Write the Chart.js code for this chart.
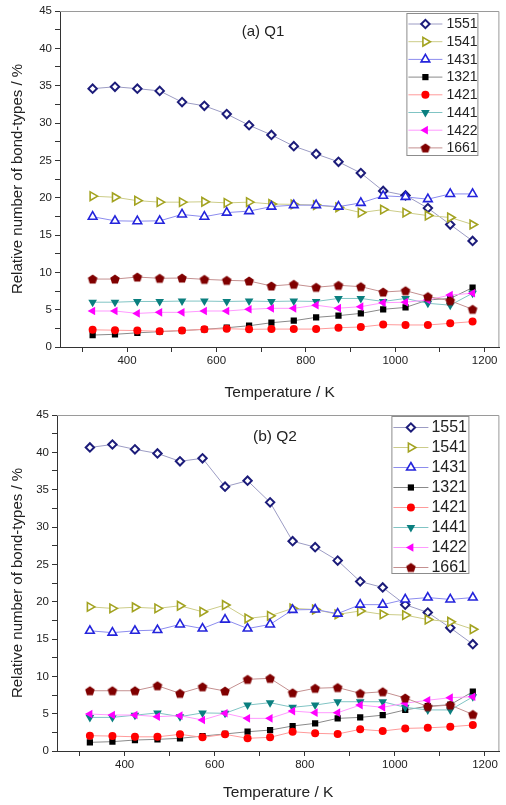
<!DOCTYPE html>
<html lang="en">
<head>
    <meta charset="UTF-8">
    <title>Bond types</title>
    <script src="https://cdn.jsdelivr.net/npm/chart.js@4.4.0/dist/chart.umd.min.js"></script>
    <style>
        body { margin: 0; background: #fff; }
        #wrap { position: relative; width: 506px; height: 805px; overflow: hidden; }
        .box { position: absolute; left: 0; width: 506px; }
    </style>
</head>
<body>
<div id="wrap">
    <div class="box" style="top:0;height:400px"><canvas id="chartA"></canvas></div>
    <div class="box" style="top:400px;height:405px"><canvas id="chartB"></canvas></div>
</div>

<script>
    // temperatures (K)
    const temps = [323, 373, 423, 473, 523, 573, 623, 673, 723, 773, 823, 873, 923, 973, 1023, 1073, 1123, 1173];
    const bondTypes = ['1551', '1541', '1431', '1321', '1421', '1441', '1422', '1661'];

    // (a) Q1
    const q1_1551 = [34.6, 34.85, 34.6, 34.3, 32.8, 32.3, 31.2, 29.7, 28.4, 26.9, 25.85, 24.8, 23.3, 20.9, 20.3, 18.6, 16.4, 14.2];
    const q1_1541 = [20.2, 20.05, 19.6, 19.4, 19.4, 19.45, 19.3, 19.4, 19.15, 19.1, 19.0, 18.7, 18.0, 18.4, 18.0, 17.6, 17.35, 16.4];
    const q1_1431 = [17.45, 16.9, 16.85, 16.9, 17.75, 17.45, 18.0, 18.2, 18.8, 19.0, 19.0, 18.8, 19.3, 20.25, 20.1, 19.8, 20.5, 20.5];
    const q1_1321 = [1.6, 1.7, 1.9, 2.05, 2.2, 2.37, 2.58, 2.85, 3.25, 3.52, 3.97, 4.2, 4.5, 5.05, 5.3, 6.3, 6.5, 7.95];
    const q1_1421 = [2.3, 2.25, 2.2, 2.1, 2.2, 2.37, 2.45, 2.37, 2.4, 2.4, 2.4, 2.58, 2.68, 3.0, 2.95, 2.95, 3.17, 3.4];
    const q1_1441 = [6.0, 6.0, 6.1, 6.1, 6.15, 6.15, 6.1, 6.15, 6.1, 6.15, 6.1, 6.5, 6.5, 6.1, 6.5, 5.85, 5.6, 7.2];
    const q1_1422 = [4.82, 4.82, 4.5, 4.64, 4.64, 4.82, 4.82, 5.05, 5.18, 5.18, 5.6, 5.2, 5.4, 5.93, 6.0, 6.3, 6.96, 7.2];
    const q1_1661 = [9.1, 9.1, 9.37, 9.2, 9.24, 9.06, 8.93, 8.84, 8.17, 8.4, 8.0, 8.26, 8.08, 7.36, 7.54, 6.75, 6.2, 5.05];

    // (b) Q2
    const q2_1551 = [40.65, 41.05, 40.4, 39.85, 38.8, 39.2, 35.4, 36.2, 33.3, 28.1, 27.3, 25.5, 22.7, 21.9, 19.6, 18.55, 16.5, 14.3];
    const q2_1541 = [19.3, 19.1, 19.25, 19.1, 19.45, 18.65, 19.55, 17.75, 18.1, 19.1, 18.95, 18.3, 18.75, 18.3, 18.2, 17.6, 17.3, 16.3];
    const q2_1431 = [16.1, 15.85, 16.1, 16.2, 16.95, 16.4, 17.6, 16.4, 16.95, 18.9, 18.95, 18.4, 19.6, 19.6, 20.3, 20.55, 20.3, 20.55];
    const q2_1321 = [1.16, 1.25, 1.47, 1.56, 1.7, 2.0, 2.28, 2.58, 2.8, 3.35, 3.7, 4.37, 4.5, 4.8, 5.5, 6.0, 6.2, 7.94];
    const q2_1421 = [2.05, 2.0, 1.9, 1.9, 2.23, 1.83, 2.23, 1.7, 1.83, 2.58, 2.37, 2.28, 2.9, 2.68, 3.03, 3.1, 3.25, 3.48];
    const q2_1441 = [4.5, 4.5, 4.8, 5.1, 4.6, 5.1, 5.05, 6.15, 6.47, 5.85, 6.15, 6.6, 6.6, 6.6, 5.85, 5.5, 5.5, 7.25];
    const q2_1422 = [4.95, 4.82, 4.82, 4.6, 4.73, 4.15, 5.05, 4.37, 4.37, 5.35, 5.13, 5.13, 6.15, 5.85, 6.4, 6.8, 7.14, 7.27];
    const q2_1661 = [8.07, 8.07, 8.07, 8.74, 7.72, 8.6, 8.03, 9.6, 9.73, 7.8, 8.4, 8.5, 7.72, 7.94, 7.1, 5.95, 6.15, 4.9];

    const yTicks = [0, 5, 10, 15, 20, 25, 30, 35, 40, 45];
    const xTicks = [400, 600, 800, 1000, 1200];
    const xMinorTicks = [300, 400, 500, 600, 700, 800, 900, 1000, 1100, 1200];

    // pentagon marker for 1661
    function pentagon(color) {
        const c = document.createElement('canvas');
        c.width = 12; c.height = 12;
        const g = c.getContext('2d');
        g.beginPath();
        for (let i = 0; i < 5; i++) {
            const a = -Math.PI / 2 + i * 2 * Math.PI / 5;
            const px = 6 + 5 * Math.cos(a), py = 6.4 + 5 * Math.sin(a);
            if (i === 0) g.moveTo(px, py); else g.lineTo(px, py);
        }
        g.closePath();
        g.fillStyle = color;
        g.fill();
        return c;
    }

    const styles = [
        {marker: '#1c1c7a', line: '#9c9cc4', fill: '#fff', point: 'rectRot', rot: 0, r: 4.2, bw: 2},
        {marker: '#a3a321', line: '#cccc88', fill: '#fff', point: 'triangle', rot: 90, r: 5, bw: 1.6},
        {marker: '#2424dc', line: '#8c8cee', fill: '#fff', point: 'triangle', rot: 0, r: 5, bw: 1.6},
        {marker: '#000000', line: '#8a8a8a', fill: '#000000', point: 'rect', rot: 0, r: 4.4, bw: 0},
        {marker: '#ff0000', line: '#ff9a9a', fill: '#ff0000', point: 'circle', rot: 0, r: 4, bw: 0},
        {marker: '#0a7f7f', line: '#80c4c4', fill: '#0a7f7f', point: 'triangle', rot: 180, r: 5, bw: 0},
        {marker: '#ff00ff', line: '#ff99ff', fill: '#ff00ff', point: 'triangle', rot: 270, r: 5, bw: 0},
        {marker: '#800000', line: '#c49090', fill: '#800000', point: pentagon('#800000'), rot: 0, r: 5, bw: 0}
    ];

    function makeDatasets(series) {
        return series.map((vals, i) => {
            const s = styles[i];
            return {
                label: bondTypes[i],
                data: vals,
                borderColor: s.line,
                borderWidth: 1,
                pointStyle: s.point,
                pointRotation: s.rot,
                pointRadius: s.r,
                pointBorderWidth: s.bw,
                pointBorderColor: s.marker,
                pointBackgroundColor: s.fill,
                tension: 0,
                order: 8 - i
            };
        });
    }

    // legend box + panel label drawn inside the plot area
    const decor = {
        id: 'decor',
        afterDraw(chart, args, o) {
            const {ctx, chartArea} = chart;
            ctx.save();
            // frame top/right
            ctx.strokeStyle = '#9a9a9a';
            ctx.lineWidth = 1;
            ctx.beginPath();
            ctx.moveTo(chartArea.left, chartArea.top + 0.5);
            ctx.lineTo(chartArea.right - 0.5, chartArea.top + 0.5);
            ctx.lineTo(chartArea.right - 0.5, chartArea.bottom);
            ctx.stroke();

            ctx.fillStyle = '#222';
            ctx.font = o.labelFont + 'px Arial, "Liberation Sans", sans-serif';
            ctx.textAlign = 'center';
            ctx.textBaseline = 'middle';
            ctx.fillText(o.label, o.labelX, o.labelY);

            const bx = chartArea.right - o.boxRight, by = chartArea.top + o.boxTop;
            ctx.fillStyle = '#fff';
            ctx.fillRect(bx, by, o.boxW, o.boxH);
            ctx.strokeStyle = '#8c8c8c';
            ctx.strokeRect(bx + 0.5, by + 0.5, o.boxW, o.boxH);

            ctx.font = o.font + 'px Arial, "Liberation Sans", sans-serif';
            ctx.textAlign = 'left';
            chart.data.datasets.forEach((ds, i) => {
                const s = styles[i];
                const y = by + o.first + i * o.step;
                ctx.strokeStyle = s.line;
                ctx.lineWidth = 1;
                ctx.beginPath();
                ctx.moveTo(bx + 2, y + 0.5);
                ctx.lineTo(bx + 2 + o.lineW, y + 0.5);
                ctx.stroke();
                ctx.fillStyle = s.fill;
                ctx.strokeStyle = s.marker;
                ctx.lineWidth = s.bw;
                Chart.helpers.drawPoint(ctx, {pointStyle: s.point, rotation: s.rot, radius: s.r, borderWidth: s.bw}, bx + 2 + o.lineW / 2, y + 0.5);
                ctx.fillStyle = '#222';
                ctx.fillText(ds.label, bx + o.textX, y + 1);
            });
            ctx.restore();
        }
    };

    function makeChart(id, series, opts) {
        return new Chart(document.getElementById(id), {
            type: 'line',
            data: {labels: temps, datasets: makeDatasets(series)},
            plugins: [decor],
            options: {
                responsive: true,
                maintainAspectRatio: false,
                devicePixelRatio: 1,
                animation: false,
                layout: {padding: {left: 0, right: 1, top: opts.padTop, bottom: 0}},
                plugins: {
                    legend: {display: false},
                    tooltip: {enabled: false},
                    decor: opts.decor
                },
                scales: {
                    x: {
                        type: 'linear',
                        min: 250,
                        max: opts.xMax,
                        afterFit: s => { s.height = opts.xHeight; },
                        afterBuildTicks: s => { s.ticks = xMinorTicks.map(v => ({value: v})); },
                        ticks: {
                            autoSkip: false,
                            maxRotation: 0,
                            padding: 2,
                            color: '#222',
                            font: {family: 'Arial, "Liberation Sans", sans-serif', size: 11.5},
                            callback: v => xTicks.includes(v) ? String(v) : ''
                        },
                        grid: {drawOnChartArea: false, tickLength: 5, color: '#333', tickColor: '#333'},
                        border: {color: '#333', width: 1},
                        title: {
                            display: true,
                            text: 'Temperature / K',
                            color: '#222',
                            font: {family: 'Arial, "Liberation Sans", sans-serif', size: 15.5, lineHeight: 1},
                            padding: {top: 0, bottom: opts.xTitlePad}
                        }
                    },
                    y: {
                        min: 0,
                        max: 45,
                        afterFit: s => { s.width = opts.yWidth; },
                        ticks: {
                            stepSize: 2.5,
                            autoSkip: false,
                            padding: 3,
                            color: '#222',
                            font: {family: 'Arial, "Liberation Sans", sans-serif', size: 11.5},
                            callback: v => yTicks.includes(v) ? String(v) : ''
                        },
                        grid: {drawOnChartArea: false, tickLength: 5, color: '#333', tickColor: '#333'},
                        border: {color: '#333', width: 1},
                        title: {
                            display: true,
                            text: 'Relative number of bond-types / %',
                            color: '#222',
                            font: {family: 'Arial, "Liberation Sans", sans-serif', size: 15, lineHeight: 1},
                            padding: {top: 10.5, bottom: 0}
                        }
                    }
                }
            }
        });
    }

    makeChart('chartA', [q1_1551, q1_1541, q1_1431, q1_1321, q1_1421, q1_1441, q1_1422, q1_1661], {
        padTop: 11, xHeight: 53, yWidth: 60, xMax: 1233, xTitlePad: 0,
        decor: {label: '(a) Q1', labelFont: 15, labelX: 263, labelY: 32,
            boxRight: 93, boxTop: 2, boxW: 71, boxH: 142, first: 10.5, step: 17.7, lineW: 34, textX: 40, font: 14}
    });

    makeChart('chartB', [q2_1551, q2_1541, q2_1431, q2_1321, q2_1421, q2_1441, q2_1422, q2_1661], {
        padTop: 15, xHeight: 54, yWidth: 57, xMax: 1232, xTitlePad: 5,
        decor: {label: '(b) Q2', labelFont: 15.5, labelX: 275, labelY: 37,
            boxRight: 108, boxTop: 1, boxW: 77, boxH: 157, first: 11, step: 20, lineW: 35, textX: 40, font: 16}
    });
</script>
</body>
</html>
